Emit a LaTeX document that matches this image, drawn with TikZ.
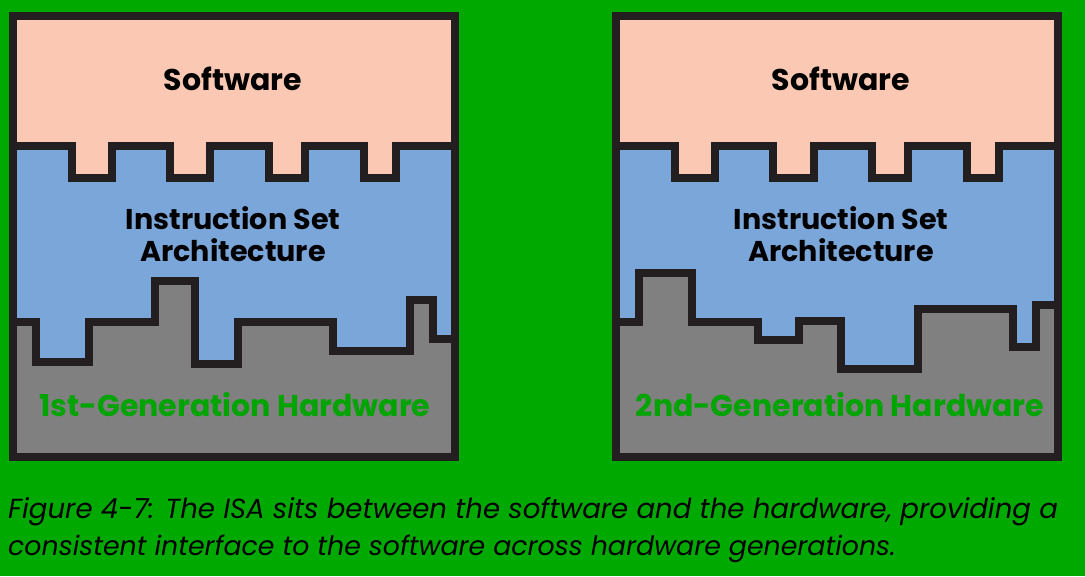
\documentclass[tikz,border=0pt]{standalone}
\usepackage{fontspec}
\setmainfont{Poppins}
\newfontfamily\labfont{Poppins}
\newfontfamily\capfont{Poppins}
\definecolor{bggreen}{HTML}{00A900}
\definecolor{hwgreen}{HTML}{00A400}
\definecolor{peach}{HTML}{FBC9B3}
\definecolor{isablue}{HTML}{7BA6D9}
\definecolor{hwgray}{HTML}{808080}
\definecolor{ink}{HTML}{231F20}
\begin{document}
\begin{tikzpicture}[x=1pt,y=-1pt,
  edge/.style={draw=ink,line width=8pt,line join=miter,line cap=rect},
  bigtxt/.style={font=\labfont\bfseries\fontsize{30}{32}\selectfont,text=black,anchor=base,inner sep=0pt},
  isatxt/.style={font=\labfont\bfseries\fontsize{28.6}{32}\selectfont,text=black,anchor=base,inner sep=0pt},
  hwtxt/.style={font=\labfont\bfseries\fontsize{30}{32}\selectfont,text=hwgreen,anchor=base,inner sep=0pt},
  captxt/.style={text=black,anchor=base west,inner sep=0pt}]
\useasboundingbox (0,0) rectangle (1085,576);
\fill[bggreen] (0,0) rectangle (1085,576);
% ---------- left panel ----------
\fill[isablue] (13,16) rectangle (455,457);
\fill[peach] (13,16) -- (455,16) -- (455,145.5) -- (395.7,145.5) -- (395.7,177.5) -- (364,177.5) -- (364,145.5) -- (305,145.5) -- (305,177.5) -- (269,177.5) -- (269,145.5) -- (209.7,145.5) -- (209.7,177.5) -- (170,177.5) -- (170,145.5) -- (112,145.5) -- (112,177.5) -- (72,177.5) -- (72,145.5) -- (13,145.5) -- cycle;
\fill[hwgray] (13,457) -- (13,322) -- (36,322) -- (36,362) -- (89,362) -- (89,322) -- (155,322) -- (155,281) -- (195,281) -- (195,364) -- (238,364) -- (238,322) -- (333,322) -- (333,351) -- (410,351) -- (410,300) -- (433,300) -- (433,339) -- (455,339) -- (455,457) -- cycle;
\draw[edge] (13,145.5) -- (72,145.5) -- (72,177.5) -- (112,177.5) -- (112,145.5) -- (170,145.5) -- (170,177.5) -- (209.7,177.5) -- (209.7,145.5) -- (269,145.5) -- (269,177.5) -- (305,177.5) -- (305,145.5) -- (364,145.5) -- (364,177.5) -- (395.7,177.5) -- (395.7,145.5) -- (455,145.5);
\draw[edge] (13,322) -- (36,322) -- (36,362) -- (89,362) -- (89,322) -- (155,322) -- (155,281) -- (195,281) -- (195,364) -- (238,364) -- (238,322) -- (333,322) -- (333,351) -- (410,351) -- (410,300) -- (433,300) -- (433,339) -- (455,339);
\draw[edge] (13,16) rectangle (455,457);
\node[bigtxt] (swL) at (233,90) {Software};
\node[isatxt] (isaL1) at (233,229) {Instruction Set};
\node[isatxt] (isaL2) at (233,261) {Architecture};
\node[hwtxt] (hwL) at (235,416) {1st-Generation Hardware};
% ---------- right panel ----------
\fill[isablue] (616,16) rectangle (1057.5,457);
\fill[peach] (616,16) -- (1057.5,16) -- (1057.5,145.5) -- (998.7,145.5) -- (998.7,177.5) -- (967,177.5) -- (967,145.5) -- (908,145.5) -- (908,177.5) -- (872,177.5) -- (872,145.5) -- (813.7,145.5) -- (813.7,177.5) -- (773,177.5) -- (773,145.5) -- (715,145.5) -- (715,177.5) -- (675,177.5) -- (675,145.5) -- (616,145.5) -- cycle;
\fill[hwgray] (616,457) -- (616,322) -- (639,322) -- (639,273) -- (692,273) -- (692,322) -- (758,322) -- (758,340) -- (798.5,340) -- (798.5,321) -- (841,321) -- (841,369) -- (918,369) -- (918,309) -- (1013,309) -- (1013,347) -- (1036,347) -- (1036,305) -- (1057.5,305) -- (1057.5,457) -- cycle;
\draw[edge] (616,145.5) -- (675,145.5) -- (675,177.5) -- (715,177.5) -- (715,145.5) -- (773,145.5) -- (773,177.5) -- (813.7,177.5) -- (813.7,145.5) -- (872,145.5) -- (872,177.5) -- (908,177.5) -- (908,145.5) -- (967,145.5) -- (967,177.5) -- (998.7,177.5) -- (998.7,145.5) -- (1057.5,145.5);
\draw[edge] (616,322) -- (639,322) -- (639,273) -- (692,273) -- (692,322) -- (758,322) -- (758,340) -- (798.5,340) -- (798.5,321) -- (841,321) -- (841,369) -- (918,369) -- (918,309) -- (1013,309) -- (1013,347) -- (1036,347) -- (1036,305) -- (1057.5,305);
\draw[edge] (616,16) rectangle (1057.5,457);
\node[bigtxt] (swR) at (841,90) {Software};
\node[isatxt] (isaR1) at (841,229) {Instruction Set};
\node[isatxt] (isaR2) at (841,261) {Architecture};
\node[hwtxt] (hwR) at (840,416) {2nd-Generation Hardware};
% ---------- caption ----------
\node[captxt,font=\capfont\itshape\fontsize{27.6}{37}\selectfont] (cap1) at (8,518) {Figure 4-7: The ISA sits between the software and the hardware, providing a};
\node[captxt,font=\capfont\itshape\fontsize{26.8}{37}\selectfont] (cap2) at (8,555) {consistent interface to the software across hardware generations.};
\end{tikzpicture}
\end{document}
